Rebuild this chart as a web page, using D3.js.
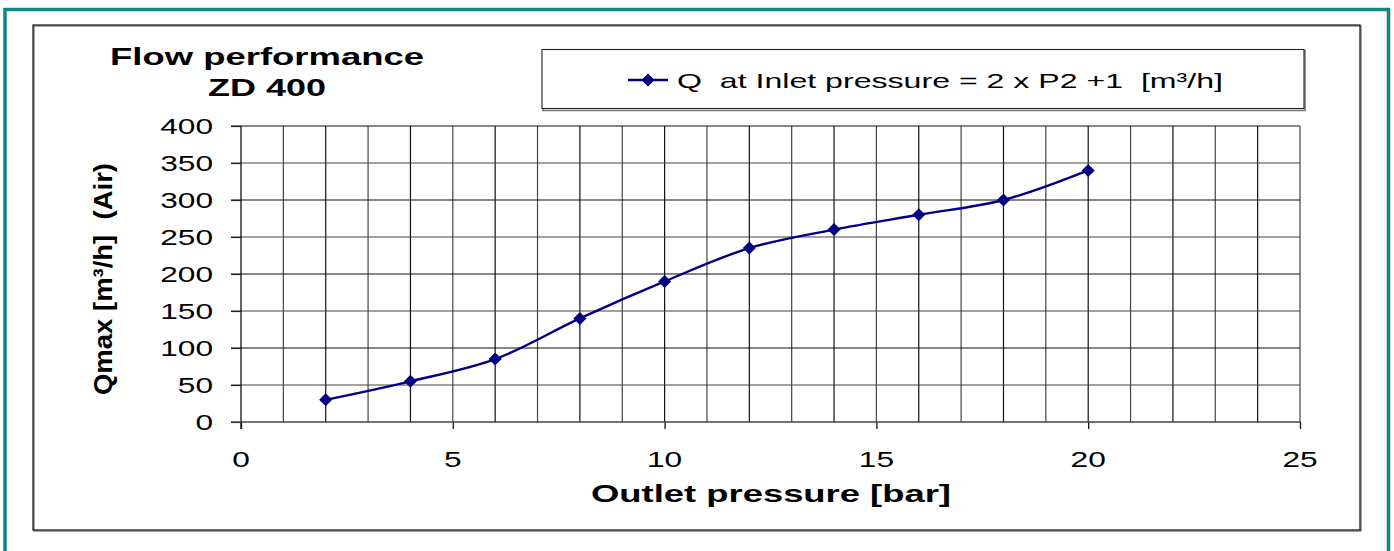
<!DOCTYPE html>
<html>
<head>
<meta charset="utf-8">
<script src="https://cdn.jsdelivr.net/npm/d3@7"></script>
<style>
    html, body { margin: 0; padding: 0; background: #fff; }
    #chart { width: 1394px; height: 551px; }
    text { font-family: "Liberation Sans", Arial, sans-serif; fill: #000; white-space: pre; }
</style>
</head>
<body>
<div id="chart"></div>
<script>
// Outlet pressure [bar] and flow Q [m3/h]
const pressure = [2, 4, 6, 8, 10, 12, 14, 16, 18, 20];
const flow = [30, 55, 85, 140, 190, 235, 260, 280, 300, 340];

const xTicks = [0, 5, 10, 15, 20, 25];
const yTicks = [0, 50, 100, 150, 200, 250, 300, 350, 400];

const titleLines = ["Flow performance", "ZD 400"];
const seriesName = "Q  at Inlet pressure = 2 x P2 +1  [m³/h]";
const xTitle = "Outlet pressure [bar]";
const yTitle = "Qmax [m³/h]  (Air)";

function createChart() {
    const width = 1394;
    const height = 551;
    const marginLeft = 241;
    const marginRight = 94;
    const marginTop = 126;
    const marginBottom = 129;
    const navy = "#000080";
    const stretch = 1.44; // text in the original is drawn wide

    const data = pressure.map((p, i) => ({ x: p, y: flow[i] }));

    const x = d3.scaleLinear()
        .domain([0, 25])
        .range([marginLeft, width - marginRight]);

    const y = d3.scaleLinear()
        .domain([0, 400])
        .range([height - marginBottom, marginTop]);

    const svg = d3.select("#chart").append("svg")
        .attr("width", width)
        .attr("height", height)
        .attr("viewBox", [0, 0, width, height]);

    // teal outer border (open at the bottom edge of the picture)
    svg.append("rect")
        .attr("x", 5).attr("y", 9.5)
        .attr("width", 1383.5).attr("height", 560)
        .attr("fill", "none")
        .attr("stroke", "#11877e")
        .attr("stroke-width", 3.5);

    // chart frame with a small shadow
    svg.append("rect")
        .attr("x", 34).attr("y", 26)
        .attr("width", 1327).attr("height", 505)
        .attr("fill", "none")
        .attr("stroke", "#666")
        .attr("stroke-width", 1.2);
    svg.append("rect")
        .attr("x", 33).attr("y", 25)
        .attr("width", 1327).attr("height", 505)
        .attr("fill", "none")
        .attr("stroke", "#222")
        .attr("stroke-width", 1.3);

    // grid: a vertical line every unit, horizontal every 50
    const grid = svg.append("g")
        .attr("stroke-width", 1.2);

    grid.append("g")
        .selectAll("line")
        .data(d3.range(1, 26))
        .join("line")
        .attr("x1", d => x(d))
        .attr("x2", d => x(d))
        .attr("y1", y(400))
        .attr("y2", y(0))
        .attr("stroke", (d, i) => i % 2 ? "#111" : "#444");

    grid.append("g")
        .selectAll("line")
        .data(yTicks.slice(1))
        .join("line")
        .attr("x1", x(0) - 10)
        .attr("x2", x(25))
        .attr("y1", d => y(d))
        .attr("y2", d => y(d))
        .attr("stroke", (d, i) => i % 2 ? "#111" : "#444");

    // axes
    svg.append("g")
        .attr("transform", `translate(${x(0)},0)`)
        .call(d3.axisLeft(y).tickValues(yTicks).tickSize(10).tickSizeOuter(0).tickFormat(""))
        .call(g => g.select(".domain").remove())
        .call(g => g.selectAll(".tick line").attr("stroke", "#222").attr("stroke-width", 1.2));

    svg.append("line")
        .attr("x1", x(0)).attr("x2", x(0))
        .attr("y1", y(400)).attr("y2", y(0) + 7)
        .attr("stroke", "#111").attr("stroke-width", 1.3);

    svg.append("g")
        .attr("transform", `translate(0,${y(0)})`)
        .call(d3.axisBottom(x).tickValues(xTicks).tickSize(7).tickSizeOuter(0).tickFormat(""))
        .call(g => g.select(".domain").remove())
        .call(g => g.selectAll(".tick line").attr("stroke", "#111").attr("stroke-width", 1.3));

    svg.append("line")
        .attr("x1", x(0) - 10).attr("x2", x(25))
        .attr("y1", y(0)).attr("y2", y(0))
        .attr("stroke", "#444").attr("stroke-width", 1.7);

    // tick labels, widened like the source
    svg.append("g")
        .selectAll("text")
        .data(yTicks)
        .join("text")
        .attr("transform", d => `translate(213,${y(d) + 8}) scale(${stretch},1)`)
        .attr("text-anchor", "end")
        .attr("font-size", 22)
        .text(d => d);

    svg.append("g")
        .selectAll("text")
        .data(xTicks)
        .join("text")
        .attr("transform", d => `translate(${x(d)},${y(0) + 45}) scale(${stretch},1)`)
        .attr("text-anchor", "middle")
        .attr("font-size", 22)
        .text(d => d);

    // axis titles
    svg.append("text")
        .attr("x", 771)
        .attr("y", 502)
        .attr("text-anchor", "middle")
        .attr("font-size", 23)
        .attr("font-weight", "bold")
        .attr("textLength", 360)
        .attr("lengthAdjust", "spacingAndGlyphs")
        .text(xTitle);

    svg.append("text")
        .attr("transform", "translate(112,279) rotate(-90)")
        .attr("text-anchor", "middle")
        .attr("font-size", 26)
        .attr("font-weight", "bold")
        .attr("textLength", 232)
        .attr("lengthAdjust", "spacingAndGlyphs")
        .text(yTitle);

    // chart title
    svg.append("text")
        .attr("x", 267).attr("y", 65)
        .attr("text-anchor", "middle")
        .attr("font-size", 24)
        .attr("font-weight", "bold")
        .attr("textLength", 314)
        .attr("lengthAdjust", "spacingAndGlyphs")
        .text(titleLines[0]);

    svg.append("text")
        .attr("x", 267).attr("y", 96)
        .attr("text-anchor", "middle")
        .attr("font-size", 24)
        .attr("font-weight", "bold")
        .attr("textLength", 118)
        .attr("lengthAdjust", "spacingAndGlyphs")
        .text(titleLines[1]);

    // series line (Excel style smoothed)
    const line = d3.line()
        .x(d => x(d.x))
        .y(d => y(d.y))
        .curve(d3.curveCatmullRom.alpha(0.5));

    svg.append("path")
        .datum(data)
        .attr("fill", "none")
        .attr("stroke", navy)
        .attr("stroke-width", 2.4)
        .attr("d", line);

    const diamond = d3.symbol(d3.symbolSquare, 85);

    svg.append("g")
        .selectAll("path")
        .data(data)
        .join("path")
        .attr("transform", d => `translate(${x(d.x)},${y(d.y)}) rotate(45)`)
        .attr("fill", navy)
        .attr("d", diamond);

    // legend box with shadow
    svg.append("rect")
        .attr("x", 543).attr("y", 50.5)
        .attr("width", 762).attr("height", 60)
        .attr("fill", "none")
        .attr("stroke", "#777")
        .attr("stroke-width", 1.5);
    svg.append("rect")
        .attr("x", 542).attr("y", 49.5)
        .attr("width", 762).attr("height", 59)
        .attr("fill", "#fff")
        .attr("stroke", "#222")
        .attr("stroke-width", 1.1);

    const legend = svg.append("g")
        .attr("transform", "translate(628,80)");

    legend.append("line")
        .attr("x1", 0).attr("x2", 40)
        .attr("stroke", navy)
        .attr("stroke-width", 2.4);

    legend.append("path")
        .attr("transform", "translate(20,0) rotate(45)")
        .attr("fill", navy)
        .attr("d", diamond);

    legend.append("text")
        .attr("x", 49)
        .attr("y", 8)
        .attr("font-size", 21)
        .attr("textLength", 546)
        .attr("lengthAdjust", "spacingAndGlyphs")
        .text(seriesName);
}

createChart();
</script>
</body>
</html>
